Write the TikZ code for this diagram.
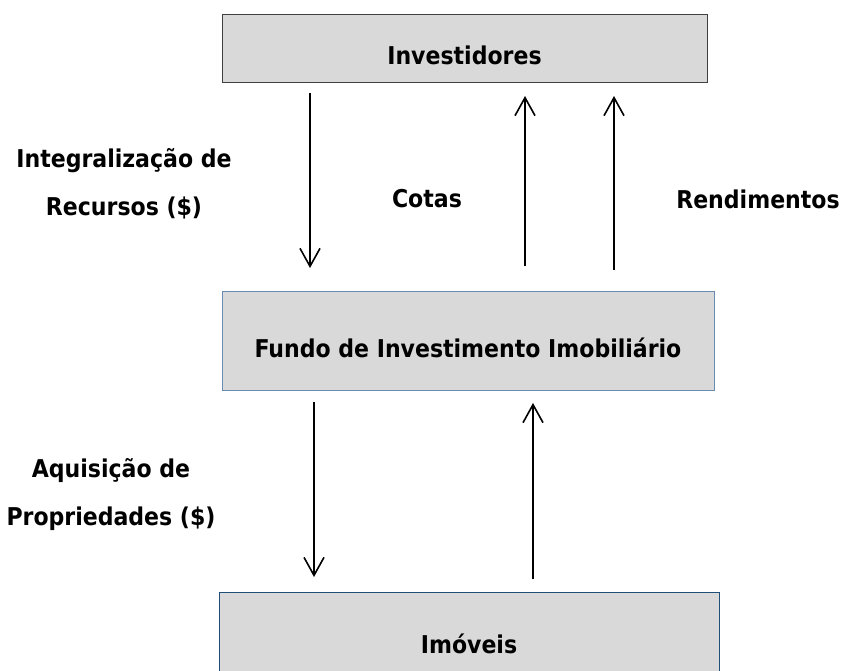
\documentclass[tikz,border=0pt]{standalone}
\usepackage{fontspec}
\setmainfont{DejaVu Sans Condensed}
\usetikzlibrary{arrows.meta}
\definecolor{boxfill}{HTML}{D9D9D9}
\definecolor{bordertop}{HTML}{404040}
\definecolor{bordermid}{HTML}{6A8CB2}
\definecolor{borderbot}{HTML}{1F4E79}
\tikzset{
  box/.style={rectangle, fill=boxfill, line width=1pt, inner sep=0pt, outer sep=0pt,
              font=\fontsize{24.5}{28}\selectfont\bfseries, text height=33pt, text depth=0pt},
  lab/.style={font=\fontsize{24.5}{48}\selectfont\bfseries, inner sep=0pt, align=center, anchor=base},
  flow/.style={line width=1.6pt, -{Straight Barb[length=18pt,width=20pt,line width=1.6pt]}},
}
\begin{document}
\begin{tikzpicture}[x=1pt,y=-1pt]
\useasboundingbox (0,0) rectangle (846,670);
% boxes
\node[box, draw=bordertop, minimum width=485pt, minimum height=68pt] (inv) at (464.5,48) {Investidores};
\node[box, draw=bordermid, minimum width=492pt, minimum height=99pt] (fii) at (468,340.5) {Fundo de Investimento Imobiliário};
\node[box, draw=borderbot, minimum width=500pt, minimum height=89pt] (imo) at (469,636.5) {Imóveis};
% arrow x positions
\coordinate (xa) at (310,0);
\coordinate (xb) at (525,0);
\coordinate (xc) at (614,0);
\coordinate (xd) at (314,0);
\coordinate (xe) at (533,0);
% connectors
\draw[flow, shorten <=11pt, shorten >=23pt] (inv.south -| xa) -- (fii.north -| xa);
\draw[flow, shorten <=25pt, shorten >=14pt] (fii.north -| xb) -- (inv.south -| xb);
\draw[flow, shorten <=21pt, shorten >=14pt] (fii.north -| xc) -- (inv.south -| xc);
\draw[flow, shorten <=12pt, shorten >=15pt] (fii.south -| xd) -- (imo.north -| xd);
\draw[flow, shorten <=13pt, shorten >=13pt] (imo.north -| xe) -- (fii.south -| xe);
% labels
\node[lab] (lint) at (124,215) {Integralização de\\Recursos (\$)};
\node[lab] (lcot) at (427,207) {Cotas};
\node[lab] (lren) at (758,208) {Rendimentos};
\node[lab] (laq) at (111,525) {Aquisição de\\Propriedades (\$)};
\end{tikzpicture}
\end{document}
